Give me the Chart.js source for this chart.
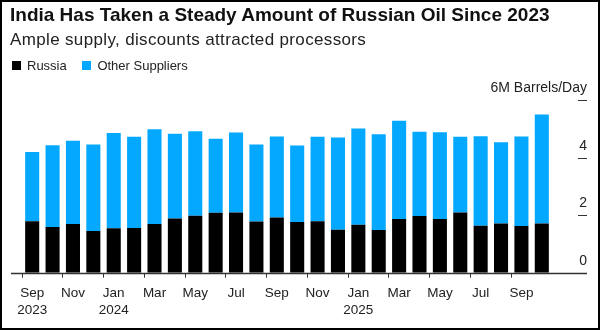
<!DOCTYPE html>
<html>
<head>
<meta charset="utf-8">
<script src="https://cdn.jsdelivr.net/npm/chart.js@4.4.1/dist/chart.umd.min.js"></script>
<style>
  html, body { margin: 0; padding: 0; background: #fff; }
  #wrap { position: relative; width: 600px; height: 330px; overflow: hidden; font-family: "Liberation Sans", Arial, sans-serif; }
  #frame { position: absolute; left: 0; top: 0; width: 600px; height: 330px; box-sizing: border-box; border: 2px solid #000; pointer-events: none; }
  #titulo { position: absolute; left: 10px; top: 5px; font-size: 19px; line-height: 19px; font-weight: bold; color: #111; white-space: nowrap; }
  #subtitulo { position: absolute; left: 10px; top: 31px; font-size: 17px; line-height: 17px; letter-spacing: 0.35px; color: #222; white-space: nowrap; }
  #leyenda { position: absolute; left: 12px; top: 59px; font-size: 13px; line-height: 13px; color: #222; white-space: nowrap; }
  #leyenda span.caja { display: inline-block; width: 9px; height: 9px; vertical-align: 0px; margin-right: 6px; }
  #leyenda span.item { margin-right: 12px; }
  canvas { position: absolute; left: 0; top: 0; }
</style>
</head>
<body>
<div id="wrap">
  <canvas id="graficoPetroleo" width="600" height="330"></canvas>
  <div id="titulo">India Has Taken a Steady Amount of Russian Oil Since 2023</div>
  <div id="subtitulo">Ample supply, discounts attracted processors</div>
  <div id="leyenda">
    <span class="item"><span class="caja" style="background:#000"></span>Russia</span>
    <span class="item"><span class="caja" style="background:#04a8ff"></span>Other Suppliers</span>
  </div>
  <div id="frame"></div>
</div>
<script>
// importaciones mensuales de crudo, millones de barriles por dia
const meses = [
    'Sep 2023', 'Oct 2023', 'Nov 2023', 'Dec 2023',
    'Jan 2024', 'Feb 2024', 'Mar 2024', 'Apr 2024', 'May 2024', 'Jun 2024',
    'Jul 2024', 'Aug 2024', 'Sep 2024', 'Oct 2024', 'Nov 2024', 'Dec 2024',
    'Jan 2025', 'Feb 2025', 'Mar 2025', 'Apr 2025', 'May 2025', 'Jun 2025',
    'Jul 2025', 'Aug 2025', 'Sep 2025', 'Oct 2025'
];
const rusia = [
    1.79, 1.59, 1.69, 1.45, 1.54, 1.55, 1.69, 1.88, 1.98, 2.08,
    2.09, 1.78, 1.92, 1.76, 1.79, 1.49, 1.67, 1.48, 1.87, 1.97,
    1.87, 2.09, 1.63, 1.71, 1.62, 1.71
];
const otrosProveedores = [
    2.40, 2.84, 2.89, 3.00, 3.31, 3.17, 3.29, 2.95, 2.93, 2.57,
    2.78, 2.67, 2.81, 2.66, 2.93, 3.21, 3.34, 3.33, 3.41, 2.93,
    3.01, 2.63, 3.11, 2.82, 3.11, 3.79
];
const etiquetasX = [
    ['Sep', '2023'], '', 'Nov', '', ['Jan', '2024'], '', 'Mar', '', 'May', '',
    'Jul', '', 'Sep', '', 'Nov', '', ['Jan', '2025'], '', 'Mar', '', 'May', '',
    'Jul', '', 'Sep', ''
];
const ticksY = [0, 2, 4, 6];
const unidadY = 'M Barrels/Day';

const fuente = '"Liberation Sans", Arial, sans-serif';

// eje Y a la derecha: rayitas cortas con el numero encima, y la linea base
const ejeDerecho = {
    id: 'ejeDerecho',
    afterDraw(chart) {
        const ctx = chart.ctx;
        const y = chart.scales.y;
        ctx.save();
        // linea base
        const y0 = Math.round(y.getPixelForValue(0)) + 0.5;
        ctx.strokeStyle = '#333';
        ctx.lineWidth = 1.5;
        ctx.beginPath();
        ctx.moveTo(11, y0);
        ctx.lineTo(587, y0);
        ctx.stroke();
        ctx.lineWidth = 1;
        ctx.font = '14px ' + fuente;
        ctx.fillStyle = '#222';
        ctx.textAlign = 'right';
        ctx.textBaseline = 'alphabetic';
        ticksY.forEach(v => {
            const py = Math.round(y.getPixelForValue(v)) + 0.5;
            if (v !== 0) {
                ctx.beginPath();
                ctx.moveTo(578, py);
                ctx.lineTo(587, py);
                ctx.stroke();
            }
            const texto = v === ticksY[ticksY.length - 1] ? v + unidadY : String(v);
            ctx.fillText(texto, 587, py - 8.5);
        });
        ctx.restore();
    }
};

const ctx = document.getElementById('graficoPetroleo').getContext('2d');
new Chart(ctx, {
    type: 'bar',
    data: {
        labels: meses,
        datasets: [{
            label: 'Russia',
            data: rusia,
            backgroundColor: '#000000',
            barPercentage: 0.69,
            categoryPercentage: 1
        }, {
            label: 'Other Suppliers',
            data: otrosProveedores,
            backgroundColor: '#04a8ff',
            barPercentage: 0.69,
            categoryPercentage: 1
        }]
    },
    options: {
        responsive: false,
        animation: false,
        layout: { padding: { top: 100, left: 22, right: 48, bottom: 0 } },
        plugins: {
            legend: { display: false },
            tooltip: { enabled: false }
        },
        scales: {
            x: {
                stacked: true,
                border: { display: false },
                grid: {
                    drawOnChartArea: false,
                    tickLength: 5,
                    tickColor: c => etiquetasX[c.index] ? '#333' : 'rgba(0,0,0,0)'
                },
                ticks: {
                    autoSkip: false,
                    maxRotation: 0,
                    padding: 7,
                    color: '#222',
                    font: { family: fuente, size: 13.5, lineHeight: 1.25 },
                    callback: (v, i) => etiquetasX[i]
                },
                afterFit: s => { s.height = 57.3; }
            },
            y: {
                stacked: true,
                display: false,
                min: 0,
                max: 6
            }
        }
    },
    plugins: [ejeDerecho]
});
</script>
</body>
</html>
